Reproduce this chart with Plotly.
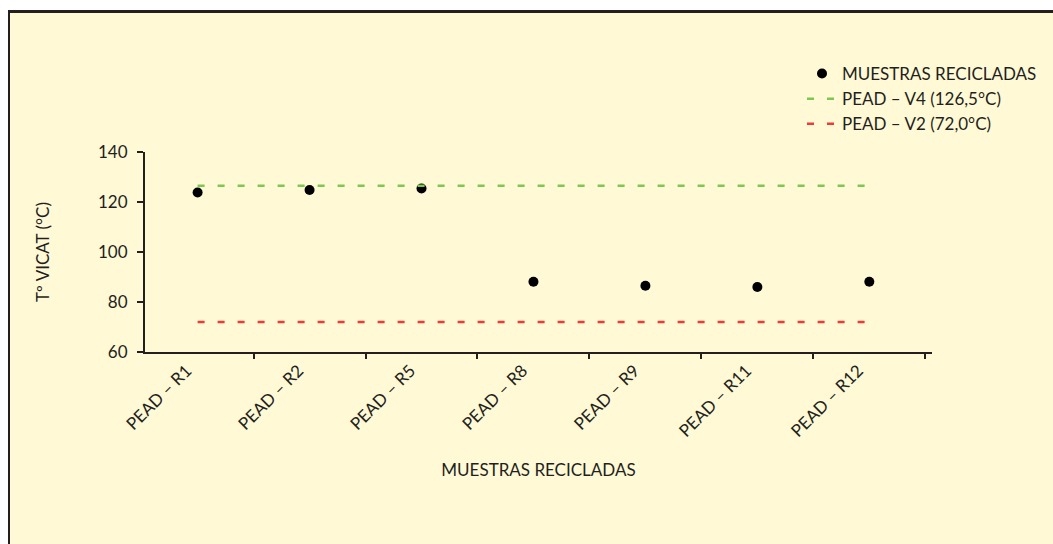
import plotly.graph_objects as go

# Vicat softening temperature of recycled HDPE samples
muestras = ["PEAD – R1", "PEAD – R2", "PEAD – R5", "PEAD – R8",
            "PEAD – R9", "PEAD – R11", "PEAD – R12"]
t_vicat = [123.8, 124.8, 125.4, 88.1, 86.5, 86.0, 88.1]

# Reference grades
ref_v4 = 126.5
ref_v2 = 72.0

W, H = 1053, 544
M_L, M_R, M_T, M_B = 145, 121, 152, 192
PW, PH = W - M_L - M_R, H - M_T - M_B

BG = "#FFF9D6"
INK = "#231F20"
FONT = "Lato, 'Open Sans', sans-serif"


def px_x(p):
    return (p - M_L) / PW


def px_y(p):
    return (H - M_B - p) / PH


fig = go.Figure()

fig.add_trace(go.Scatter(
    x=muestras, y=t_vicat, mode="markers", name="MUESTRAS RECICLADAS",
    marker=dict(color="#000000", size=10, symbol="circle"),
))
fig.add_trace(go.Scatter(
    x=[muestras[0], muestras[-1]], y=[ref_v4, ref_v4], mode="lines",
    name="PEAD – V4 (126,5°C)",
    line=dict(color="#7DC753", width=2.5, dash="7px,13px"),
))
fig.add_trace(go.Scatter(
    x=[muestras[0], muestras[-1]], y=[ref_v2, ref_v2], mode="lines",
    name="PEAD – V2 (72,0°C)",
    line=dict(color="#EE3B36", width=2.5, dash="7px,13px"),
))

# White page strip above/left of the yellow panel and the dark frame edges
shapes = [
    dict(type="rect", xref="paper", yref="paper", x0=px_x(-5), x1=px_x(W + 5),
         y0=px_y(11), y1=px_y(-5), fillcolor="#FFFFFF", line_width=0, layer="below"),
    dict(type="rect", xref="paper", yref="paper", x0=px_x(-5), x1=px_x(9),
         y0=px_y(H + 5), y1=px_y(-5), fillcolor="#FFFFFF", line_width=0, layer="below"),
    dict(type="line", xref="paper", yref="paper", x0=px_x(9), x1=px_x(W + 5),
         y0=px_y(11.5), y1=px_y(11.5), line=dict(color=INK, width=3)),
    dict(type="line", xref="paper", yref="paper", x0=px_x(9), x1=px_x(9),
         y0=px_y(10), y1=px_y(H + 5), line=dict(color=INK, width=2)),
]

fig.update_layout(
    width=W, height=H,
    margin=dict(l=M_L, r=M_R, t=M_T, b=M_B, autoexpand=False),
    paper_bgcolor=BG, plot_bgcolor=BG,
    font=dict(family=FONT, size=17, color=INK),
    shapes=shapes,
    showlegend=True,
    legend=dict(
        x=px_x(802), y=px_y(56), xanchor="left", yanchor="top",
        bgcolor="rgba(0,0,0,0)", font=dict(size=17, color=INK),
        tracegroupgap=0, itemwidth=30,
    ),
    xaxis=dict(
        type="category", categoryorder="array", categoryarray=muestras,
        range=[-0.47, 6.56],
        showline=True, linecolor=INK, linewidth=2,
        ticks="outside", tickson="boundaries", ticklen=5, tickwidth=2, tickcolor=INK,
        tickangle=-45, showgrid=False, zeroline=False,
        tickfont=dict(size=17), ticklabelshift=-11,
        title=dict(text="MUESTRAS RECICLADAS", font=dict(size=17), standoff=24),
        automargin=False,
    ),
    yaxis=dict(
        range=[60, 140], tickvals=[60, 80, 100, 120, 140],
        showline=True, linecolor=INK, linewidth=2,
        ticks="outside", ticklen=6, tickwidth=2, tickcolor=INK,
        showgrid=False, zeroline=False,
        tickfont=dict(size=17), ticklabelstandoff=6,
        title=dict(text="Tº VICAT (°C)", font=dict(size=17), standoff=44),
        automargin=False,
    ),
)

fig.write_html("out.html")
